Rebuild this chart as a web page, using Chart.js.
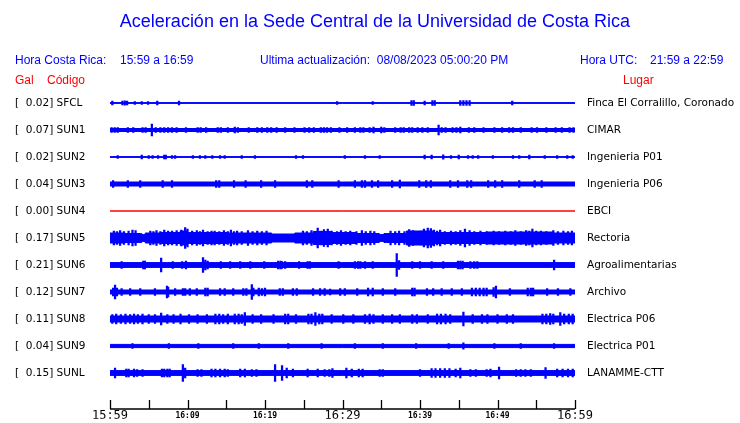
<!DOCTYPE html>
<html><head><meta charset="utf-8">
<script src="https://cdn.jsdelivr.net/npm/chart.js@4"></script>
<style>
body{margin:0;background:#fff;}
#wrap{position:relative;width:740px;height:423px;font-family:"Liberation Sans",Arial,sans-serif;}
#wrap canvas{position:absolute;left:0;top:0;}
.t{position:absolute;white-space:pre;font-size:12px;line-height:1;color:#0000ff;}
.r{color:#ff0000;}
</style></head><body>
<div id="wrap">
<canvas id="chart" width="740" height="423"></canvas>
<div class="t" style="left:5px;width:740px;text-align:center;top:12px;font-size:18px">Aceleración en la Sede Central de la Universidad de Costa Rica</div>
<div class="t" style="left:15px;top:54px">Hora Costa Rica:</div>
<div class="t" style="left:120px;top:54px">15:59 a 16:59</div>
<div class="t" style="left:260px;top:54px">Ultima actualización:  08/08/2023 05:00:20 PM</div>
<div class="t" style="left:580px;top:54px">Hora UTC:</div>
<div class="t" style="left:650px;top:54px">21:59 a 22:59</div>
<div class="t r" style="left:15px;top:74px">Gal</div>
<div class="t r" style="left:47px;top:74px">Código</div>
<div class="t r" style="left:623px;top:74px">Lugar</div>
</div>
<script>
// ---- Data ----
const codes  = ['SFCL','SUN1','SUN2','SUN3','SUN4','SUN5','SUN6','SUN7','SUN8','SUN9','SUNL'];
const galMax = ['0.02','0.07','0.02','0.04','0.00','0.17','0.21','0.12','0.11','0.04','0.15'];
const places = ['Finca El Corralillo, Coronado','CIMAR','Ingenieria P01','Ingenieria P06','EBCI','Rectoria','Agroalimentarias','Archivo','Electrica P06','Electrica P01','LANAMME-CTT'];
const xTickLabels = ['15:59','','16:09','','16:19','','16:29','','16:39','','16:49','','16:59'];
const bigTickLabels = ['15:59','16:29','16:59'];

// band envelope per trace: [minute, half height]; rows are 27 units apart
const envSFCL = [[0,0.4],[60,0.4]];
const envSUN1 = [[0,1.5],[60,1.5]];
const envSUN2 = [[0,0.4],[60,0.4]];
const envSUN3 = [[0,2],[60,2]];
const envSUN4 = [[0,0],[60,0]];
const envSUN5 = [[0,5],[3.9,4.5],[4.3,3.5],[4.8,5],[8.4,5.5],[9.7,7],[10.3,5.5],[20,5],[21.7,4],[23.2,4],[24.5,5],[28,6.5],[29,5.5],[34.5,4.5],[35,3.5],[35.7,4.5],[40.8,7],[42.6,5.5],[54.5,6],[60,5]];
const envSUN6 = [[0,2.4],[60,2.4]];
const envSUN7 = [[0,2],[60,2]];
const envSUN8 = [[0,3],[60,3]];
const envSUN9 = [[0,1.6],[60,1.6]];
const envSUNL = [[0,2.4],[60,2.4]];

// short bursts: [minute, half height]
const spkSFCL = [[0.3,2],[1.6,2],[1.9,2.2],[2.2,2],[3.2,1.5],[4.1,1.5],[4.9,1.5],[6.1,2],[8.9,2],[29.3,1.5],[33.9,1.5],[38.9,2.5],[39.2,2.5],[40.6,1.8],[41.6,2.5],[41.9,2.5],[45.2,2.5],[45.6,2.5],[46.0,2.5],[46.4,2.5],[51.9,2]];
const spkSUN1 = [[0.2,2.5],[0.6,2.5],[1.0,2.5],[2.3,2.5],[3.0,2.5],[4.2,2.5],[4.6,2.5],[5.4,6],[5.9,2.5],[6.5,2.5],[7.0,2.5],[7.5,2.5],[8.0,2.5],[8.6,2.5],[9.8,2.5],[11.3,2.5],[11.7,2.5],[12.4,2.5],[13.9,2.5],[14.3,2.5],[15.2,2.5],[16.1,3],[16.5,2.5],[17.9,2.5],[19.0,2.5],[19.6,2.5],[20.3,2.5],[20.8,2.5],[21.5,2.5],[22.6,2.5],[23.8,2.5],[25.1,2.5],[25.7,2.5],[26.3,2.5],[27.2,2.5],[27.6,2.5],[28.0,2.5],[28.5,2.5],[29.6,2.5],[30.6,2.5],[31.6,2.5],[32.3,2.5],[32.7,2.5],[33.5,2.5],[34.0,3],[35.0,3],[35.4,2.5],[36.8,2.5],[37.5,2.5],[37.9,2.5],[38.6,2.5],[39.0,2.5],[39.7,2.5],[40.3,2.5],[41.0,2.5],[42.4,5],[42.8,2.5],[43.3,2.5],[44.2,2.5],[44.7,2.5],[45.2,3],[46.3,2.5],[47.0,2.5],[48.2,2.5],[49.6,2.5],[50.6,2.5],[51.5,2.5],[52.0,2.5],[53.0,2.5],[54.4,2.5],[55.1,2.5],[56.3,2.5],[57.5,2.5],[58.3,2.5],[59.3,2.5],[59.8,2.5]];
const spkSUN2 = [[1.0,1.5],[4.1,2],[5.0,1.5],[5.5,1.5],[6.2,1.5],[7.0,2],[7.2,2],[8.0,1.5],[8.4,1.5],[10.7,1.5],[11.6,1.5],[12.3,1.5],[13.2,1.5],[14.2,1.5],[14.8,1.5],[17.0,1.5],[18.7,1.5],[24.0,1.5],[24.9,1.5],[30.3,1.5],[32.9,1.5],[34.8,1.5],[40.6,2],[41.5,2],[43.0,2.2],[44.0,1.5],[45.0,2],[46.2,1.5],[46.8,1.5],[47.5,1.5],[49.4,1.5],[52.0,1.5],[52.8,1.5],[54.1,2],[56.1,1.5],[57.7,1.5],[59.0,1.5],[59.7,1.5]];
const spkSUN3 = [[0.4,3.5],[2.3,3.5],[3.9,3.5],[6.8,3.5],[8.0,3.5],[13.7,3.5],[14.1,3.5],[16.0,3.5],[17.5,3.5],[19.5,3.5],[21.3,3.5],[25.4,3.5],[26.1,3.5],[29.5,3.5],[31.6,3.5],[32.5,3.5],[32.9,3.5],[33.8,3.5],[34.6,3.5],[36.4,3.5],[37.4,4],[39.9,3.5],[40.8,3.5],[41.4,3.5],[43.9,3.5],[44.9,3.5],[46.1,3.5],[46.6,3.5],[48.8,3.5],[49.7,3.5],[50.6,3.5],[52.8,3.5],[54.8,3.5],[55.7,3.5]];
const spkSUN4 = [];
const spkSUN5 = [[0.5,7],[0.9,6.5],[1.3,7.5],[1.8,6.5],[2.4,7],[2.9,8],[3.3,7.5],[5.2,7],[5.6,6.5],[6.0,7.5],[6.5,6.5],[7.0,8],[7.5,7],[8.0,7],[8.6,7.5],[9.2,8],[9.7,10.5],[10.0,9],[10.6,7],[11.2,7.5],[11.6,6.5],[12.0,8],[12.6,6.5],[13.1,7],[13.5,7],[14.1,6.5],[14.7,7.5],[15.2,6.5],[15.6,8],[16.0,6.5],[16.4,7],[17.0,6.5],[17.8,7.5],[18.4,6.5],[19.0,7],[19.6,6.5],[20.2,7],[24.9,7],[25.4,6.5],[26.0,7.5],[26.4,6.5],[26.8,10],[27.2,7],[27.6,8.5],[28.1,9],[28.6,7],[29.3,6.5],[29.8,7.5],[30.4,6.5],[31.0,7],[31.8,6.5],[32.5,7.5],[33.0,6.5],[33.6,7],[34.1,6.5],[36.2,7],[36.8,6.5],[37.3,7],[38.0,6.5],[38.6,8.5],[39.1,7.5],[39.6,6.5],[40.1,7],[40.5,9],[41.0,10],[41.4,9.5],[41.8,8],[42.2,7],[42.6,8],[43.2,6.5],[44.0,7],[44.6,6.5],[45.2,7.5],[45.8,9],[46.4,7.5],[47.0,6.5],[47.8,7],[48.6,6.5],[49.5,7],[50.2,6.5],[51.0,7],[51.7,6.5],[52.3,7.5],[53.0,6.5],[53.7,7.5],[54.1,7],[54.5,9],[55.0,7],[55.6,7],[56.3,6.5],[57.2,7.5],[57.8,6.5],[58.5,7],[59.1,6.5],[59.6,7]];
const spkSUN6 = [[1.5,3.5],[4.3,4],[4.5,4],[6.6,7],[8.1,3.5],[9.3,3.5],[9.8,4],[12.0,7.5],[12.3,5],[12.6,4],[14.3,3.5],[15.5,3.5],[16.8,3.5],[18.1,3.5],[19.9,3.5],[21.7,4],[22.0,4],[22.2,3.5],[22.6,3.5],[24.4,3.5],[25.5,3.5],[25.8,3.5],[29.5,3.5],[31.6,3.5],[32.0,3.5],[32.3,3.5],[32.9,3.5],[33.9,3.5],[37.0,11.5],[37.3,4.5],[39.0,3.5],[40.0,3.5],[41.5,3.5],[43.0,3.5],[44.9,4],[45.2,4],[45.5,4],[46.5,3.5],[47.0,3.5],[47.4,3.5],[57.3,5]];
const spkSUN7 = [[0.4,4],[0.65,7],[0.9,4],[1.5,3.5],[2.6,3.5],[3.9,3.5],[5.8,3.5],[7.35,6],[7.5,5],[8.4,3.5],[9.4,3.5],[9.7,3.5],[10.3,3.5],[11.2,3.5],[12.3,4],[12.6,4],[14.2,3.5],[14.8,3.5],[15.9,3.5],[17.2,3.5],[17.6,3.5],[18.3,7.5],[18.5,4],[19.2,4],[19.6,3.5],[20.0,4],[21.9,3.5],[22.3,3.5],[23.6,3.5],[24.1,3.5],[26.2,3.5],[27.1,3.5],[27.7,3.5],[28.4,3],[29.7,3.5],[30.3,3.5],[31.9,3.5],[33.3,4],[33.9,4],[35.2,3.5],[36.8,3.5],[39.0,4],[39.3,4],[40.9,3.5],[41.7,3.5],[42.8,3.5],[44.1,3.5],[45.4,3.5],[46.7,4],[47.2,4],[47.7,4],[48.2,4],[48.6,4],[49.5,4.5],[49.8,6],[51.6,3.5],[53.9,4],[54.3,4],[54.6,4],[56.4,3.5],[57.8,3.5],[59.4,3.5]];
const spkSUN8 = [[0.3,4.5],[0.8,5],[1.4,4.5],[2.0,5],[2.6,4.5],[3.1,5],[3.6,4.5],[4.2,5],[5.0,4.5],[5.8,4.5],[6.6,6],[7.4,4.5],[8.2,4.5],[9.1,5],[10.2,4.5],[11.3,4.5],[12.5,4.5],[13.6,5],[14.1,5],[14.6,4.5],[15.2,5],[16.1,5],[16.6,5],[17.0,4.5],[17.4,6.5],[18.4,4.5],[19.5,4.5],[21.1,4.5],[22.6,5],[23.0,5],[24.0,4.5],[25.6,5],[26.0,5],[26.5,6.5],[27.0,5],[27.4,5],[28.6,4.5],[30.1,4.5],[31.4,4.5],[32.9,4.5],[33.5,5],[34.0,4.5],[35.2,4.5],[36.4,4.5],[37.4,4.5],[39.0,4.5],[39.6,4.5],[41.0,4.5],[42.2,5],[42.7,5],[43.3,5],[43.9,4.5],[45.6,7],[46.8,4.5],[48.0,4.5],[48.7,4.5],[50.0,4.5],[51.2,4.5],[52.0,4.5],[55.8,5],[56.3,5],[56.8,5.5],[57.2,5],[58.1,6.5],[58.6,5],[59.2,5],[59.7,5]];
const spkSUN9 = [[2.9,2.3],[7.6,2.3],[11.4,2.3],[15.9,2.3],[19.2,2.3],[23.0,2.3],[27.3,2.3],[31.6,2.3],[35.2,2.3],[39.5,2.3],[43.7,2.3],[45.6,3.2],[49.6,2.3],[53.0,2.3],[57.3,2.3]];
const spkSUNL = [[0.65,5],[2.1,4],[2.4,4],[3.1,4],[3.5,3.5],[4.2,3.5],[6.7,4],[7.0,4],[7.4,4],[7.7,4],[9.4,8.5],[9.7,5],[11.3,3.5],[11.8,3.5],[13.1,4],[13.6,4],[14.2,4],[14.8,4],[15.2,3.5],[16.8,4],[17.4,4],[18.3,3.5],[18.9,3.5],[21.3,8.5],[22.2,7.5],[22.8,5],[23.6,4],[25.5,4],[26.8,4],[27.7,3.5],[28.3,3.5],[28.7,4.5],[30.5,5],[31.2,4],[32.1,4],[32.6,4],[34.8,3.5],[35.2,3.5],[40.0,3.5],[41.5,4.5],[42.0,4.5],[42.6,4.5],[43.2,4.5],[43.8,4.5],[44.6,4],[45.2,5],[46.5,3.5],[47.2,3.5],[48.6,3.5],[49.1,4],[50.2,6],[52.4,3.5],[53.0,3.5],[53.6,3.5],[54.3,3.5],[56.2,5.5],[57.7,4],[58.4,4],[59.1,4],[59.7,4]];

// ---- Build ----
const ROW = 27;
const AXIS_AT = 306;   // time axis line sits below the last row
const envelopes = [envSFCL, envSUN1, envSUN2, envSUN3, envSUN4, envSUN5, envSUN6, envSUN7, envSUN8, envSUN9, envSUNL];
const bursts = [spkSFCL, spkSUN1, spkSUN2, spkSUN3, spkSUN4, spkSUN5, spkSUN6, spkSUN7, spkSUN8, spkSUN9, spkSUNL];
const BLUE = '#0000ff', RED = '#ff0000';

const datasets = [];
codes.forEach((code, i) => {
  const c = i * ROW, col = code === 'SUN4' ? RED : BLUE;
  datasets.push({ type:'line', data: envelopes[i].map(([m,a]) => ({x:m, y:c-a})), borderColor:col, borderWidth:1, pointRadius:0, tension:0, stepped:'middle', fill:false });
  datasets.push({ type:'line', data: envelopes[i].map(([m,a]) => ({x:m, y:c+a})), borderColor:col, borderWidth:1, pointRadius:0, tension:0, stepped:'middle', fill:'-1', backgroundColor:col });
  datasets.push({ type:'bar', data: bursts[i].map(([m,a]) => ({x:m, y:[c-a, c+a]})), backgroundColor:col, barThickness:1.6, grouped:false, borderWidth:0 });
});

// ticks point up from the time axis line
const timeAxisPlugin = {
  id:'timeAxis',
  afterDraw(chart){
    const {ctx, chartArea:a, scales:{x, y}} = chart;
    const yb = Math.round(y.getPixelForValue(AXIS_AT));
    ctx.save(); ctx.strokeStyle = '#000'; ctx.lineWidth = 1.3; ctx.beginPath();
    ctx.moveTo(a.left, yb); ctx.lineTo(a.right, yb);
    x.ticks.forEach(t => { const px = Math.round(x.getPixelForValue(t.value)) + 0.5; ctx.moveTo(px, yb - 9); ctx.lineTo(px, yb); });
    ctx.stroke(); ctx.restore();
  }
};

const rowTicks = (s) => { s.ticks = codes.map((_, i) => ({ value: i * ROW })); };
const labelFont = { family:'DejaVu Sans', size:10.5 };

new Chart(document.getElementById('chart'), {
  type:'line',
  data:{ datasets },
  plugins:[timeAxisPlugin],
  options:{
    animation:false, responsive:false, events:[],
    layout:{ padding:{ left:15, top:90, right:0, bottom:0 } },
    plugins:{ legend:{display:false}, tooltip:{enabled:false} },
    scales:{
      x:{ type:'linear', min:0, max:60, offset:false,
          grid:{display:false, drawTicks:false}, border:{display:false},
          ticks:{ stepSize:5, autoSkip:false, maxRotation:0, padding:3.5, color:'#000',
                  callback:(v) => xTickLabels[Math.round(v/5)] || '',
                  font:(ctx) => bigTickLabels.includes(xTickLabels[Math.round((ctx.tick ? ctx.tick.value : 0)/5)])
                                ? {family:'DejaVu Sans Mono', size:12}
                                : {family:'DejaVu Sans Mono', size:8, weight:'bold', lineHeight:1.9} },
          afterFit:(s) => { s.height = 14; } },
      y:{ type:'linear', position:'left', reverse:true, min:-13, max:301.7,
          grid:{display:false, drawTicks:false}, border:{display:false},
          afterBuildTicks: rowTicks,
          ticks:{ autoSkip:false, crossAlign:'far', padding:0, color:'#000', font:labelFont,
                  callback:(v) => { const i = Math.round(v/ROW); return `[  ${galMax[i]}] ${codes[i]}`; } },
          afterFit:(s) => { s.width = 95; } },
      y2:{ type:'linear', position:'right', reverse:true, min:-13, max:301.7,
          grid:{display:false, drawTicks:false}, border:{display:false},
          afterBuildTicks: rowTicks,
          ticks:{ autoSkip:false, padding:12, color:'#000', font:labelFont,
                  callback:(v) => places[Math.round(v/ROW)] },
          afterFit:(s) => { s.width = 165; } }
    }
  }
});
</script>
</body></html>
